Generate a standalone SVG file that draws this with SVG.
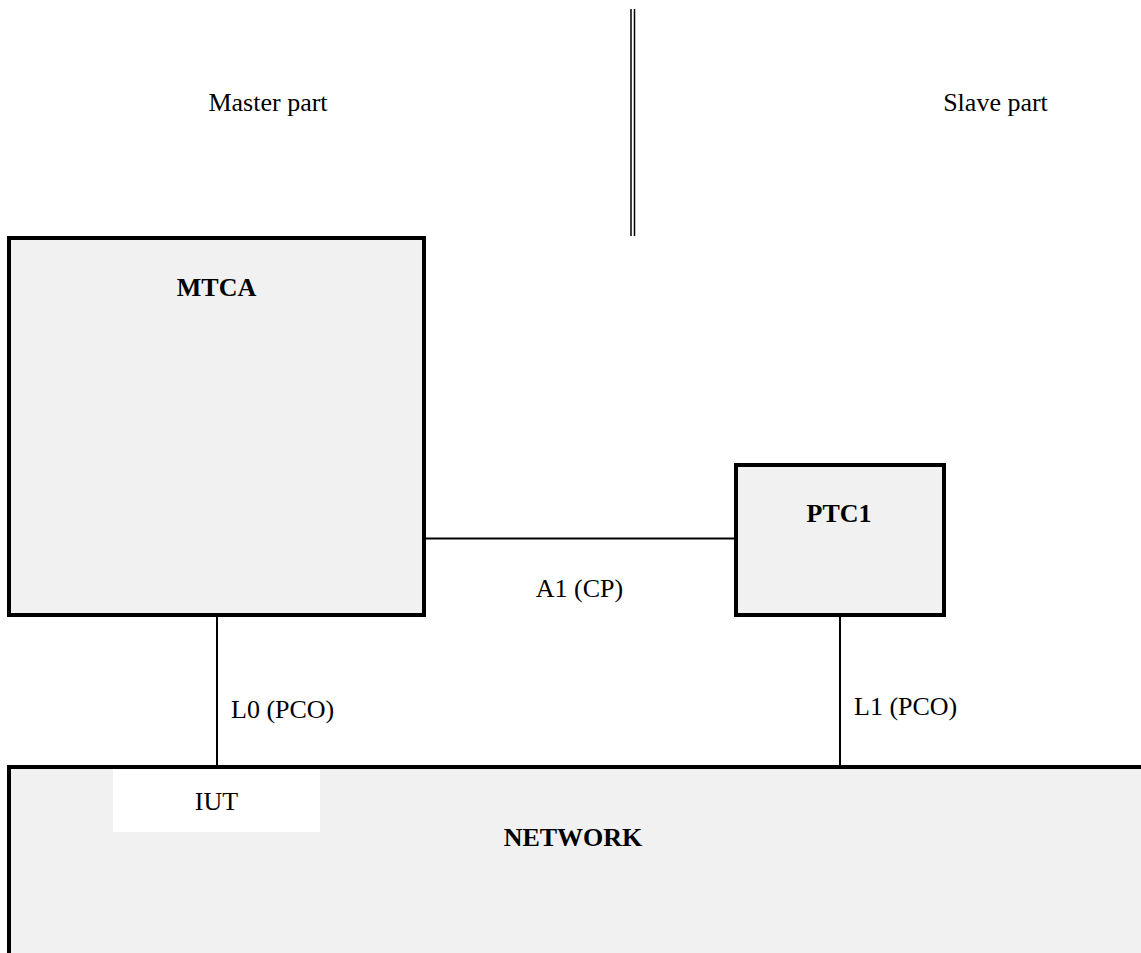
<svg xmlns="http://www.w3.org/2000/svg" width="1141" height="953" viewBox="0 0 1141 953">
<style>
.box{fill:#f1f1f1;stroke:#000;stroke-width:4}
.ln{stroke:#000;stroke-width:2;fill:none}
.t{font-family:"Liberation Serif","Times New Roman",serif;font-size:26px;fill:#000}
.b{font-weight:bold}
.m{text-anchor:middle}
</style>
<rect width="1141" height="953" fill="#fff"/>
<g id="divider">
<line x1="631" y1="9" x2="631" y2="236" stroke="#000" stroke-width="1.5"/>
<line x1="634.5" y1="9" x2="634.5" y2="236" stroke="#000" stroke-width="1.5"/>
</g>
<text class="t m" x="268" y="111">Master part</text>
<text class="t m" x="995.5" y="111">Slave part</text>
<g id="connectors">
<line class="ln" x1="426" y1="538.5" x2="736" y2="538.5"/>
<line class="ln" x1="217" y1="617" x2="217" y2="767"/>
<line class="ln" x1="840" y1="617" x2="840" y2="767"/>
<text class="t m" x="579.5" y="597">A1 (CP)</text>
<text class="t" x="231" y="718">L0 (PCO)</text>
<text class="t" x="854" y="715">L1 (PCO)</text>
</g>
<g id="MTCA">
<rect class="box" x="9" y="238" width="415" height="377"/>
<text class="t b m" x="216.5" y="296">MTCA</text>
</g>
<g id="PTC1">
<rect class="box" x="736" y="465" width="208" height="150"/>
<text class="t b m" x="839" y="522">PTC1</text>
</g>
<g id="NETWORK">
<rect class="box" x="9" y="767" width="1200" height="300"/>
<rect x="113" y="769" width="207" height="63" fill="#fff"/>
<text class="t m" x="216.5" y="810">IUT</text>
<text class="t b m" x="573" y="846">NETWORK</text>
</g>
</svg>
